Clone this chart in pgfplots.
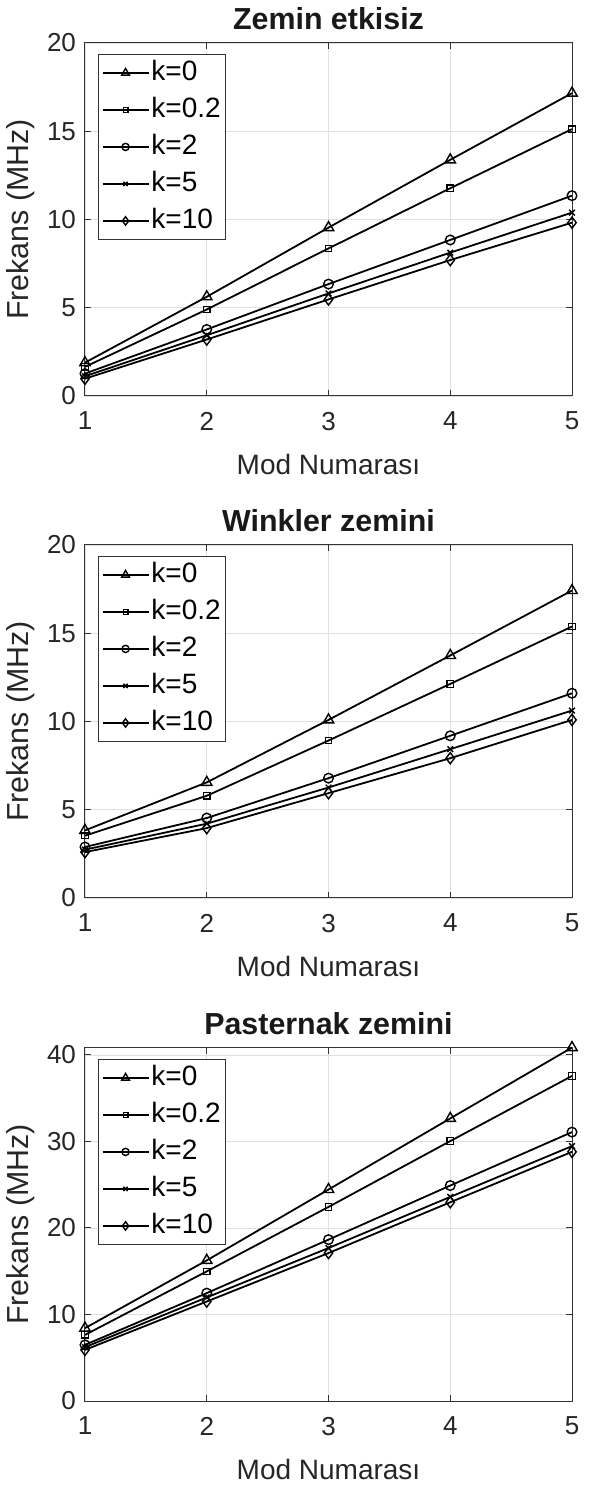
\documentclass[border=0pt]{standalone}
\usepackage{pgfplots}
\pgfplotsset{compat=1.18}
\usepackage{fontspec}
\setmainfont{Liberation Sans}
\pgfplotsset{
  panel/.style={
    width=243.5pt, height=176.5pt, scale only axis,
    xmin=1, xmax=5, xtick={1,2,3,4,5},
    grid=major, major grid style={black!12, line width=0.4pt},
    axis line style={black!80, line width=0.5pt},
    tick style={black!80, line width=0.5pt}, tick align=inside,
    major tick length=3pt,
    /pgf/number format/assume math mode=true,
    ticklabel style={font=\fontsize{13}{15}\selectfont, text=black!85},
    xticklabel style={yshift=-4.5pt},
    yticklabel style={xshift=-1pt},
    xlabel style={font=\fontsize{14}{16}\selectfont, text=black!85, yshift=-5pt},
    ylabel style={font=\fontsize{15.2}{17}\selectfont, text=black!85, yshift=-1pt},
    title style={font=\bfseries\fontsize{15.2}{17}\selectfont, text=black!90, yshift=-3pt},
    xlabel={Mod Numarası}, ylabel={Frekans (MHz)},
    legend cell align=left,
    legend style={at={(0.027,0.969)}, anchor=north west,
      font=\fontsize{14}{16}\selectfont, draw=black!80, line width=0.5pt,
      row sep=3pt, inner sep=1.5pt,
      nodes={inner sep=1pt, text height=10.5pt, text depth=3pt}},
    legend image code/.code={%
      \draw[mark repeat=2,mark phase=2,every mark/.append style={scale=0.75}] plot coordinates {(0pt,0pt) (11.5pt,0pt) (23pt,0pt)};},
  },
  s1/.style={black, line width=0.9pt, mark=triangle, mark size=3pt, mark options={solid,line width=0.7pt}},
  s2/.style={black, line width=0.9pt, mark=square, mark size=1.6pt, mark options={solid,line width=0.6pt}},
  s3/.style={black, line width=0.9pt, mark=o, mark size=2.4pt, mark options={solid,line width=0.7pt}},
  s4/.style={black, line width=0.9pt, mark=x, mark size=2pt, mark options={solid,line width=0.7pt}},
  s5/.style={black, line width=0.9pt, mark=diamond, mark size=2.8pt, mark options={solid,line width=0.7pt}},
}
\begin{document}
\begin{tikzpicture}
% Panel 1
\begin{axis}[panel, at={(0pt,502.5pt)}, anchor=south west,
  ymin=0, ymax=20, ytick={0,5,10,15,20}, title={Zemin etkisiz}]
\addplot[s1] coordinates {(1,1.89) (2,5.62) (3,9.54) (4,13.38) (5,17.16)};
\addplot[s2] coordinates {(1,1.65) (2,4.90) (3,8.36) (4,11.77) (5,15.12)};
\addplot[s3] coordinates {(1,1.27) (2,3.77) (3,6.34) (4,8.84) (5,11.35)};
\addplot[s4] coordinates {(1,1.12) (2,3.44) (3,5.81) (4,8.12) (5,10.39)};
\addplot[s5] coordinates {(1,0.98) (2,3.20) (3,5.47) (4,7.70) (5,9.82)};
\legend{k=0,k=0.2,k=2,k=5,k=10}
\end{axis}
% Panel 2
\begin{axis}[panel, at={(0pt,251.5pt)}, anchor=south west,
  ymin=0, ymax=20, ytick={0,5,10,15,20}, title={Winkler zemini}]
\addplot[s1] coordinates {(1,3.83) (2,6.55) (3,10.09) (4,13.74) (5,17.42)};
\addplot[s2] coordinates {(1,3.53) (2,5.79) (3,8.92) (4,12.13) (5,15.38)};
\addplot[s3] coordinates {(1,2.89) (2,4.53) (3,6.79) (4,9.19) (5,11.60)};
\addplot[s4] coordinates {(1,2.74) (2,4.21) (3,6.26) (4,8.43) (5,10.62)};
\addplot[s5] coordinates {(1,2.60) (2,3.96) (3,5.94) (4,7.92) (5,10.09)};
\legend{k=0,k=0.2,k=2,k=5,k=10}
\end{axis}
% Panel 3
\begin{axis}[panel, at={(0pt,0pt)}, anchor=south west,
  ymin=0, ymax=40.8, ytick={0,10,20,30,40}, title={Pasternak zemini},
  clip=false]
\addplot[s1] coordinates {(1,8.42) (2,16.25) (3,24.44) (4,32.66) (5,40.85)};
\addplot[s2] coordinates {(1,7.64) (2,14.98) (3,22.43) (4,30.04) (5,37.57)};
\addplot[s3] coordinates {(1,6.49) (2,12.47) (3,18.65) (4,24.90) (5,31.08)};
\addplot[s4] coordinates {(1,6.22) (2,11.97) (3,17.68) (4,23.59) (5,29.46)};
\addplot[s5] coordinates {(1,5.91) (2,11.50) (3,17.10) (4,22.97) (5,28.80)};
\legend{k=0,k=0.2,k=2,k=5,k=10}
\end{axis}
\pgfresetboundingbox
\path (-42.5pt,-43.5pt) rectangle (254.5pt,700.5pt);
\end{tikzpicture}
\end{document}
